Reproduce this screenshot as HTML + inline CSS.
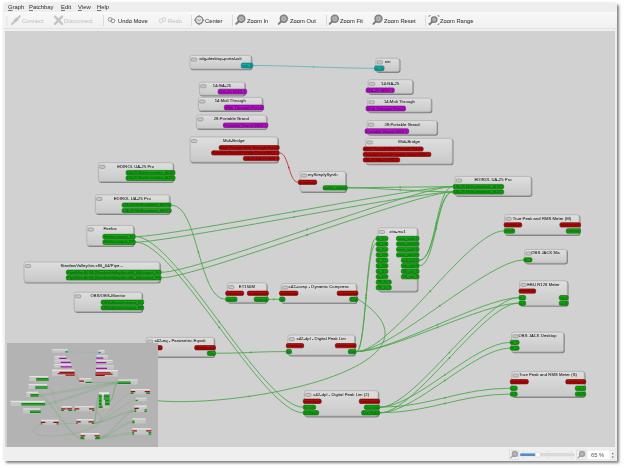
<!DOCTYPE html><html><head><meta charset="utf-8"><style>
*{box-sizing:border-box}
.tt,.pt,.tb,.mn,.st{will-change:transform}
html,body{margin:0;padding:0}
body{width:624px;height:468px;overflow:hidden;position:relative;background:#fff;font-family:"Liberation Sans",sans-serif}
#win{position:absolute;left:4px;top:3px;width:613px;height:458px;background:#efefef;box-shadow:1.5px 2px 2.5px rgba(0,0,0,.47),0 0 3px rgba(0,0,0,.12)}
#menubar{position:absolute;left:4px;top:3px;width:613px;height:9px;background:#eeeeee}
#menubar span{position:absolute;top:2.6px;font-size:6.4px;color:#2a2a2a;letter-spacing:-0.1px}
#toolbar{position:absolute;left:4px;top:12px;width:613px;height:17px;background:linear-gradient(#f7f7f7,#f1f1f1);border-top:1px solid #fbfbfb;border-bottom:1px solid #e2e2e2}
.tb{position:absolute;top:17.6px;font-size:5.8px;-webkit-text-stroke:0.06px #3c3c3c;line-height:6px;color:#3c3c3c;white-space:nowrap}
.tb.dis{color:#bcbcbc;-webkit-text-stroke:0}
.sep{position:absolute;top:15px;width:1px;height:11px;background:#dcdcdc}
#canvas{position:absolute;left:5px;top:30.6px;width:610px;height:417px;background:#d1d1d1;overflow:hidden;box-shadow:inset 0 -0.8px 0 #c7c7c7}
#scene{position:absolute;left:-5px;top:-30.6px;width:624px;height:468px}
.lines{position:absolute;left:0;top:0;will-change:transform}
.lines path{fill:none;stroke-width:0.85}
.nd{position:absolute;border:0.8px solid #aeaeae;border-radius:2.4px;background:linear-gradient(#e2e2e2,#cacaca);box-shadow:0.7px 0.9px 1.4px rgba(0,0,0,.32)}
.ic{position:absolute;left:1.2px;top:2.6px;width:6px;height:3.6px;border:0.9px solid #939393;border-radius:1px 1.6px 1.6px 1px;background:#c4c4c4}
.tt{position:absolute;left:0;right:0;top:0.1px;font-size:4.1px;letter-spacing:0.06px;color:#1a1a1a;white-space:nowrap;overflow:hidden;line-height:5px;-webkit-text-stroke:0.2px #1a1a1a}
.tt.c{text-align:center}
.tt.l{left:7px}
.pt{position:absolute;border-radius:1.5px;font-size:3.9px;padding-left:1.1px;white-space:nowrap;overflow:hidden;-webkit-text-stroke:0.18px currentColor}
.pt.g{background:#12a412;border:0.6px solid #066a06;color:#3ad63a}
.pt.r{background:#b00c0c;border:0.6px solid #6c0000;color:#e23c3c}
.pt.p{background:#ac12bc;border:0.6px solid #660076;color:#d84ae8}
.pt.t{background:#0e9a94;border:0.6px solid #056864;color:#40ccc6}
#mini{position:absolute;left:6.8px;top:343.2px;width:150.8px;height:103.6px;background:#b3b3b3;overflow:hidden}
#mini .sc{position:absolute;left:-0.45px;top:-0.7px;width:624px;height:468px;transform-origin:0 0;transform:scale(.25) translate(-5px,-30px)}
#mini .nd{background:linear-gradient(#e6e6e6,#d6d6d6);border:none;box-shadow:none;border-radius:0}
#mini .lines{will-change:auto}
#mini .lines path{stroke-width:1.6;opacity:.5}
text.tt2{font-size:4.15px;letter-spacing:0.08px;fill:#222;stroke:#222;stroke-width:0.05px}
text.pt2{font-size:3.9px;stroke-width:0.12px}
#status{position:absolute;left:4px;top:447px;width:613px;height:14px;background:#efefef}
</style></head><body>
<div id="win"></div>
<div id="menubar"></div>
<span class="mn" style="position:absolute;left:8.3px;top:4.3px;font-size:5.9px;color:#2a2a2a;line-height:6px"><u style="text-decoration-thickness:0.4px;text-underline-offset:0.8px;text-decoration-color:#777">G</u>raph</span>
<span class="mn" style="position:absolute;left:29.2px;top:4.3px;font-size:5.9px;color:#2a2a2a;line-height:6px"><u style="text-decoration-thickness:0.4px;text-underline-offset:0.8px;text-decoration-color:#777">P</u>atchbay</span>
<span class="mn" style="position:absolute;left:60.6px;top:4.3px;font-size:5.9px;color:#2a2a2a;line-height:6px"><u style="text-decoration-thickness:0.4px;text-underline-offset:0.8px;text-decoration-color:#777">E</u>dit</span>
<span class="mn" style="position:absolute;left:77.5px;top:4.3px;font-size:5.9px;color:#2a2a2a;line-height:6px"><u style="text-decoration-thickness:0.4px;text-underline-offset:0.8px;text-decoration-color:#777">V</u>iew</span>
<span class="mn" style="position:absolute;left:96.7px;top:4.3px;font-size:5.9px;color:#2a2a2a;line-height:6px"><u style="text-decoration-thickness:0.4px;text-underline-offset:0.8px;text-decoration-color:#777">H</u>elp</span>
<div id="toolbar"></div>
<div class="tb dis" style="left:21.5px">Connect</div>
<div class="tb dis" style="left:64.0px">Disconnect</div>
<div class="tb" style="left:117.7px">Undo Move</div>
<div class="tb dis" style="left:168.3px">Redo</div>
<div class="tb" style="left:205.0px">Center</div>
<div class="tb" style="left:246.7px">Zoom In</div>
<div class="tb" style="left:289.6px">Zoom Out</div>
<div class="tb" style="left:340.0px">Zoom Fit</div>
<div class="tb" style="left:383.8px">Zoom Reset</div>
<div class="tb" style="left:439.6px">Zoom Range</div>
<div class="sep" style="left:102.9px"></div>
<div class="sep" style="left:191.3px"></div>
<div class="sep" style="left:232.3px"></div>
<div class="sep" style="left:326.2px"></div>
<div class="sep" style="left:425.4px"></div>
<svg style="position:absolute;left:0;top:0" width="624" height="32"><rect x="6.5" y="16.5" width="0.9" height="0.9" fill="#c4c4c4"/><rect x="6.5" y="18.5" width="0.9" height="0.9" fill="#c4c4c4"/><rect x="6.5" y="20.5" width="0.9" height="0.9" fill="#c4c4c4"/><rect x="6.5" y="22.5" width="0.9" height="0.9" fill="#c4c4c4"/><rect x="6.5" y="24.5" width="0.9" height="0.9" fill="#c4c4c4"/><path d="M12 24L14.8 21.2M17.2 18.8L19.8 16.2" stroke="#c6c6c6" stroke-width="2.2" stroke-linecap="round"/><path d="M13.4 20.4L16.4 17.4L18.6 19.6L15.6 22.6Z" fill="#c0c0c0"/><path d="M55 16.6L62 23.8M62 16.6L55 23.8" stroke="#c4c4c4" stroke-width="2.4" stroke-linecap="round"/><circle cx="110.1" cy="19.4" r="1.9" fill="none" stroke="#8c8c8c" stroke-width="0.9"/><circle cx="112.9" cy="20.8" r="1.9" fill="none" stroke="#8c8c8c" stroke-width="0.9"/><circle cx="161.2" cy="20.8" r="1.9" fill="none" stroke="#cfcfcf" stroke-width="0.9"/><circle cx="164" cy="19.4" r="1.9" fill="none" stroke="#cfcfcf" stroke-width="0.9"/><circle cx="199.2" cy="20.1" r="3.7" fill="#e4e4e4" stroke="#8a8a8a" stroke-width="1.4"/><path d="M197.6 19.4L199.2 21L200.8 19.4" fill="none" stroke="#8a8a8a" stroke-width="0.9"/><path d="M199.2 15V16.2M199.2 24V25.2M194.1 20.1H195.3M203.1 20.1H204.3" stroke="#8a8a8a" stroke-width="1.1"/><circle cx="241.3" cy="18.8" r="3.6" fill="#a0a0a0" stroke="#7c7c7c" stroke-width="1.2"/><circle cx="241.3" cy="18.8" r="1.6" fill="none" stroke="#c8c8c8" stroke-width="0.7"/><path d="M238.6 21.5L236.2 23.9" stroke="#7c7c7c" stroke-width="2.0" stroke-linecap="round"/><circle cx="283.8" cy="18.8" r="3.6" fill="#a0a0a0" stroke="#7c7c7c" stroke-width="1.2"/><circle cx="283.8" cy="18.8" r="1.6" fill="none" stroke="#c8c8c8" stroke-width="0.7"/><path d="M281.1 21.5L278.7 23.9" stroke="#7c7c7c" stroke-width="2.0" stroke-linecap="round"/><circle cx="334.8" cy="18.8" r="3.6" fill="#a0a0a0" stroke="#7c7c7c" stroke-width="1.2"/><circle cx="334.8" cy="18.8" r="1.6" fill="none" stroke="#c8c8c8" stroke-width="0.7"/><path d="M332.1 21.5L329.7 23.9" stroke="#7c7c7c" stroke-width="2.0" stroke-linecap="round"/><circle cx="378.5" cy="18.8" r="3.6" fill="#a0a0a0" stroke="#7c7c7c" stroke-width="1.2"/><circle cx="378.5" cy="18.8" r="1.6" fill="none" stroke="#c8c8c8" stroke-width="0.7"/><path d="M375.8 21.5L373.4 23.9" stroke="#7c7c7c" stroke-width="2.0" stroke-linecap="round"/><circle cx="434.2" cy="19.6" r="2.8" fill="#a0a0a0" stroke="#7c7c7c" stroke-width="1.2"/><circle cx="434.2" cy="19.6" r="1.3" fill="none" stroke="#c8c8c8" stroke-width="0.7"/><path d="M432.1 21.7L429.7 24.1" stroke="#7c7c7c" stroke-width="2.0" stroke-linecap="round"/><path d="M429 17V15.6H430.6M437.4 15.6H439V17M429 23V24.6H430.6M437.4 24.6H439V23" fill="none" stroke="#8a8a8a" stroke-width="0.9"/></svg>
<div id="canvas"><div id="scene"><svg class="lines" width="624" height="468" viewBox="0 0 624 468">
<defs><linearGradient id="ng" x1="0" y1="0" x2="0" y2="1"><stop offset="0" stop-color="#dedede"/><stop offset="1" stop-color="#c9c9c9"/></linearGradient><filter id="sh" x="-10%" y="-10%" width="130%" height="150%"><feGaussianBlur stdDeviation="0.7"/></filter></defs>
<path d="M253.1 65.5C288.1 65.5 339.2 68.3 374.2 68.3" stroke="#62b4b2"/>
<path d="M279.5 152.9C288.8 152.9 288.8 182.2 298.0 182.2" stroke="#c03030"/>
<path d="M171.5 205.1C198.4 205.1 198.4 299.3 225.4 299.3" stroke="#46a646"/>
<path d="M135.6 236.6C170.6 236.6 417.8 186.6 452.8 186.6" stroke="#46a646"/>
<path d="M135.6 242.1C170.6 242.1 417.8 191.9 452.8 191.9" stroke="#46a646"/>
<path d="M135.6 236.6C175.6 236.6 263.0 407.2 303.0 407.2" stroke="#46a646"/>
<path d="M135.6 242.1C175.6 242.1 263.0 412.8 303.0 412.8" stroke="#46a646"/>
<path d="M161.5 272.3C196.5 272.3 417.8 186.6 452.8 186.6" stroke="#46a646"/>
<path d="M161.5 277.8C196.5 277.8 417.8 191.9 452.8 191.9" stroke="#46a646"/>
<path d="M347.7 187.8C382.7 187.8 417.8 186.6 452.8 186.6" stroke="#46a646"/>
<path d="M347.7 187.8C382.7 187.8 417.8 191.9 452.8 191.9" stroke="#46a646"/>
<path d="M268.7 299.3C273.9 299.3 273.9 299.3 279.2 299.3" stroke="#46a646"/>
<path d="M215.8 353.2C250.8 353.2 251.0 351.6 286.0 351.6" stroke="#46a646"/>
<path d="M356.4 351.6C366.1 351.6 366.1 238.5 375.9 238.5" stroke="#46a646"/>
<path d="M356.4 351.6C366.1 351.6 366.1 243.9 375.9 243.9" stroke="#46a646"/>
<path d="M356.4 351.6C391.4 351.6 468.8 230.9 503.8 230.9" stroke="#46a646"/>
<path d="M356.4 351.6C391.4 351.6 488.5 259.9 523.5 259.9" stroke="#46a646"/>
<path d="M356.4 351.6C391.4 351.6 483.7 297.7 518.7 297.7" stroke="#46a646"/>
<path d="M356.4 351.6C391.4 351.6 483.7 303.1 518.7 303.1" stroke="#46a646"/>
<path d="M419.3 260.3C436.1 260.3 436.1 186.6 452.8 186.6" stroke="#46a646"/>
<path d="M419.3 265.8C436.1 265.8 436.1 191.9 452.8 191.9" stroke="#46a646"/>
<path d="M419.3 260.3C436.1 260.3 436.1 191.9 452.8 191.9" stroke="#46a646"/>
<path d="M380.0 407.2C430.0 407.2 460.0 388.2 510.0 388.2" stroke="#46a646"/>
<path d="M380.0 412.8C430.0 412.8 460.0 394.1 510.0 394.1" stroke="#46a646"/>
<path d="M380.0 407.2C415.0 407.2 474.9 342.4 509.9 342.4" stroke="#46a646"/>
<path d="M380.0 412.8C415.0 412.8 474.9 348.1 509.9 348.1" stroke="#46a646"/>
<path d="M380.0 407.2C415.0 407.2 483.7 297.7 518.7 297.7" stroke="#46a646"/>
<path d="M380.0 412.8C415.0 412.8 483.7 303.1 518.7 303.1" stroke="#46a646"/>
<path d="M358.2 299.3C505.6 394.1 -8.6 445.3 144.2 353.2" stroke="#46a646"/>
<circle cx="313.6" cy="66.9" r="0.85" fill="#62b4b2"/>
<circle cx="288.8" cy="167.6" r="0.85" fill="#c03030"/>
<circle cx="198.4" cy="252.2" r="0.85" fill="#46a646"/>
<circle cx="294.2" cy="211.6" r="0.85" fill="#46a646"/>
<circle cx="294.2" cy="217.0" r="0.85" fill="#46a646"/>
<circle cx="219.3" cy="321.9" r="0.85" fill="#46a646"/>
<circle cx="219.3" cy="327.4" r="0.85" fill="#46a646"/>
<circle cx="307.2" cy="229.4" r="0.85" fill="#46a646"/>
<circle cx="307.2" cy="234.9" r="0.85" fill="#46a646"/>
<circle cx="400.2" cy="187.2" r="0.85" fill="#46a646"/>
<circle cx="400.2" cy="189.9" r="0.85" fill="#46a646"/>
<circle cx="273.9" cy="299.3" r="0.85" fill="#46a646"/>
<circle cx="250.9" cy="352.4" r="0.85" fill="#46a646"/>
<circle cx="366.1" cy="295.1" r="0.85" fill="#46a646"/>
<circle cx="366.1" cy="297.8" r="0.85" fill="#46a646"/>
<circle cx="430.1" cy="291.3" r="0.85" fill="#46a646"/>
<circle cx="439.9" cy="305.7" r="0.85" fill="#46a646"/>
<circle cx="437.5" cy="324.6" r="0.85" fill="#46a646"/>
<circle cx="437.5" cy="327.4" r="0.85" fill="#46a646"/>
<circle cx="436.1" cy="223.4" r="0.85" fill="#46a646"/>
<circle cx="436.1" cy="228.8" r="0.85" fill="#46a646"/>
<circle cx="436.1" cy="226.1" r="0.85" fill="#46a646"/>
<circle cx="445.0" cy="397.8" r="0.85" fill="#46a646"/>
<circle cx="445.0" cy="403.4" r="0.85" fill="#46a646"/>
<circle cx="444.9" cy="374.8" r="0.85" fill="#46a646"/>
<circle cx="444.9" cy="380.4" r="0.85" fill="#46a646"/>
<circle cx="449.4" cy="352.5" r="0.85" fill="#46a646"/>
<circle cx="449.4" cy="357.9" r="0.85" fill="#46a646"/>
<circle cx="249.2" cy="396.3" r="0.85" fill="#46a646"/>
<rect x="190.40" y="56.00" width="61.90" height="14.30" rx="2.4" fill="rgba(0,0,0,.38)" filter="url(#sh)"/>
<rect x="190.00" y="55.40" width="61.10" height="13.50" rx="2.2" fill="url(#ng)" stroke="#aeaeae" stroke-width="0.8"/>
<rect x="191.25" y="58.05" width="5.4" height="3.0" rx="1" fill="#c8c8c8" stroke="#9c9c9c" stroke-width="0.9"/>
<text class="tt2" x="220.55" y="60.30" text-anchor="middle">xdg-desktop-portal-wlr</text>
<rect x="241.30" y="63.10" width="11.50" height="4.90" rx="1.5" fill="#12aaa4" stroke="#056864" stroke-width="0.6"/>
<text class="pt2" x="242.30" y="66.90" fill="#067670" stroke="#067670" textLength="9.50" lengthAdjust="spacingAndGlyphs">out_0</text>
<rect x="376.20" y="58.80" width="24.30" height="14.20" rx="2.4" fill="rgba(0,0,0,.38)" filter="url(#sh)"/>
<rect x="375.80" y="58.20" width="23.50" height="13.40" rx="2.2" fill="url(#ng)" stroke="#aeaeae" stroke-width="0.8"/>
<rect x="377.05" y="60.85" width="5.4" height="3.0" rx="1" fill="#c8c8c8" stroke="#9c9c9c" stroke-width="0.9"/>
<text class="tt2" x="387.55" y="63.10" text-anchor="middle">niri</text>
<rect x="374.50" y="65.90" width="9.50" height="4.80" rx="1.5" fill="#12aaa4" stroke="#056864" stroke-width="0.6"/>
<text class="pt2" x="375.50" y="69.65" fill="#067670" stroke="#067670" textLength="7.50" lengthAdjust="spacingAndGlyphs">in_0</text>
<rect x="199.80" y="82.70" width="46.00" height="13.80" rx="2.4" fill="rgba(0,0,0,.38)" filter="url(#sh)"/>
<rect x="199.40" y="82.10" width="45.20" height="13.00" rx="2.2" fill="url(#ng)" stroke="#aeaeae" stroke-width="0.8"/>
<rect x="200.65" y="84.75" width="5.4" height="3.0" rx="1" fill="#c8c8c8" stroke="#9c9c9c" stroke-width="0.9"/>
<text class="tt2" x="222.00" y="87.00" text-anchor="middle">14:GA-25</text>
<rect x="218.10" y="89.20" width="28.60" height="4.90" rx="1.5" fill="#b414c4" stroke="#640074" stroke-width="0.6"/>
<text class="pt2" x="219.10" y="93.00" fill="#7a008a" stroke="#7a008a" textLength="26.60" lengthAdjust="spacingAndGlyphs">GA-25 MIDI 1</text>
<rect x="198.80" y="98.00" width="64.50" height="14.00" rx="2.4" fill="rgba(0,0,0,.38)" filter="url(#sh)"/>
<rect x="198.40" y="97.40" width="63.70" height="13.20" rx="2.2" fill="url(#ng)" stroke="#aeaeae" stroke-width="0.8"/>
<rect x="199.65" y="100.05" width="5.4" height="3.0" rx="1" fill="#c8c8c8" stroke="#9c9c9c" stroke-width="0.9"/>
<text class="tt2" x="230.25" y="102.30" text-anchor="middle">14:Midi Through</text>
<rect x="224.30" y="105.10" width="39.40" height="4.80" rx="1.5" fill="#b414c4" stroke="#640074" stroke-width="0.6"/>
<text class="pt2" x="225.30" y="108.85" fill="#7a008a" stroke="#7a008a" textLength="37.40" lengthAdjust="spacingAndGlyphs">Midi Through Port-0</text>
<rect x="196.80" y="115.70" width="70.70" height="14.30" rx="2.4" fill="rgba(0,0,0,.38)" filter="url(#sh)"/>
<rect x="196.40" y="115.10" width="69.90" height="13.50" rx="2.2" fill="url(#ng)" stroke="#aeaeae" stroke-width="0.8"/>
<rect x="197.65" y="117.75" width="5.4" height="3.0" rx="1" fill="#c8c8c8" stroke="#9c9c9c" stroke-width="0.9"/>
<text class="tt2" x="231.35" y="120.00" text-anchor="middle">28:Portable Grand</text>
<rect x="223.30" y="123.00" width="44.60" height="4.50" rx="1.5" fill="#b414c4" stroke="#640074" stroke-width="0.6"/>
<text class="pt2" x="224.30" y="126.60" fill="#7a008a" stroke="#7a008a" textLength="42.60" lengthAdjust="spacingAndGlyphs">Portable Grand MIDI 1</text>
<rect x="190.50" y="137.50" width="88.30" height="25.90" rx="2.4" fill="rgba(0,0,0,.38)" filter="url(#sh)"/>
<rect x="190.10" y="136.90" width="87.50" height="25.10" rx="2.2" fill="url(#ng)" stroke="#aeaeae" stroke-width="0.8"/>
<rect x="191.35" y="139.55" width="5.4" height="3.0" rx="1" fill="#c8c8c8" stroke="#9c9c9c" stroke-width="0.9"/>
<text class="tt2" x="233.85" y="141.80" text-anchor="middle">Midi-Bridge</text>
<rect x="219.10" y="145.50" width="60.10" height="4.20" rx="1.5" fill="#b00e0e" stroke="#660000" stroke-width="0.6"/>
<text class="pt2" x="220.10" y="148.95" fill="#7a0000" stroke="#7a0000" textLength="58.10" lengthAdjust="spacingAndGlyphs">Midi Through:Midi Through Port-0</text>
<rect x="211.60" y="150.80" width="67.60" height="4.20" rx="1.5" fill="#b00e0e" stroke="#660000" stroke-width="0.6"/>
<text class="pt2" x="212.60" y="154.25" fill="#7a0000" stroke="#7a0000" textLength="65.60" lengthAdjust="spacingAndGlyphs">Portable Grand:Portable Grand MIDI 1</text>
<rect x="243.30" y="156.40" width="35.90" height="4.20" rx="1.5" fill="#b00e0e" stroke="#660000" stroke-width="0.6"/>
<text class="pt2" x="244.30" y="159.85" fill="#7a0000" stroke="#7a0000" textLength="33.90" lengthAdjust="spacingAndGlyphs">GA-25:GA-25 MIDI 1</text>
<rect x="368.50" y="80.30" width="45.20" height="14.70" rx="2.4" fill="rgba(0,0,0,.38)" filter="url(#sh)"/>
<rect x="368.10" y="79.70" width="44.40" height="13.90" rx="2.2" fill="url(#ng)" stroke="#aeaeae" stroke-width="0.8"/>
<rect x="369.35" y="82.35" width="5.4" height="3.0" rx="1" fill="#c8c8c8" stroke="#9c9c9c" stroke-width="0.9"/>
<text class="tt2" x="390.30" y="84.60" text-anchor="middle">14:GA-25</text>
<rect x="366.10" y="87.90" width="28.20" height="4.70" rx="1.5" fill="#b414c4" stroke="#640074" stroke-width="0.6"/>
<text class="pt2" x="367.10" y="91.60" fill="#7a008a" stroke="#7a008a" textLength="26.20" lengthAdjust="spacingAndGlyphs">GA-25 MIDI 1</text>
<rect x="368.10" y="98.70" width="64.20" height="14.60" rx="2.4" fill="rgba(0,0,0,.38)" filter="url(#sh)"/>
<rect x="367.70" y="98.10" width="63.40" height="13.80" rx="2.2" fill="url(#ng)" stroke="#aeaeae" stroke-width="0.8"/>
<rect x="368.95" y="100.75" width="5.4" height="3.0" rx="1" fill="#c8c8c8" stroke="#9c9c9c" stroke-width="0.9"/>
<text class="tt2" x="399.40" y="103.00" text-anchor="middle">14:Midi Through</text>
<rect x="366.10" y="106.10" width="39.40" height="4.80" rx="1.5" fill="#b414c4" stroke="#640074" stroke-width="0.6"/>
<text class="pt2" x="367.10" y="109.85" fill="#7a008a" stroke="#7a008a" textLength="37.40" lengthAdjust="spacingAndGlyphs">Midi Through Port-0</text>
<rect x="367.50" y="121.20" width="70.60" height="14.50" rx="2.4" fill="rgba(0,0,0,.38)" filter="url(#sh)"/>
<rect x="367.10" y="120.60" width="69.80" height="13.70" rx="2.2" fill="url(#ng)" stroke="#aeaeae" stroke-width="0.8"/>
<rect x="368.35" y="123.25" width="5.4" height="3.0" rx="1" fill="#c8c8c8" stroke="#9c9c9c" stroke-width="0.9"/>
<text class="tt2" x="402.00" y="125.50" text-anchor="middle">28:Portable Grand</text>
<rect x="365.10" y="128.80" width="43.60" height="4.80" rx="1.5" fill="#b414c4" stroke="#640074" stroke-width="0.6"/>
<text class="pt2" x="366.10" y="132.55" fill="#7a008a" stroke="#7a008a" textLength="41.60" lengthAdjust="spacingAndGlyphs">Portable Grand MIDI 1</text>
<rect x="366.20" y="138.90" width="87.30" height="26.40" rx="2.4" fill="rgba(0,0,0,.38)" filter="url(#sh)"/>
<rect x="365.80" y="138.30" width="86.50" height="25.60" rx="2.2" fill="url(#ng)" stroke="#aeaeae" stroke-width="0.8"/>
<rect x="367.05" y="140.95" width="5.4" height="3.0" rx="1" fill="#c8c8c8" stroke="#9c9c9c" stroke-width="0.9"/>
<text class="tt2" x="409.05" y="143.20" text-anchor="middle">Midi-Bridge</text>
<rect x="363.20" y="146.90" width="60.00" height="4.20" rx="1.5" fill="#b00e0e" stroke="#660000" stroke-width="0.6"/>
<text class="pt2" x="364.20" y="150.35" fill="#7a0000" stroke="#7a0000" textLength="58.00" lengthAdjust="spacingAndGlyphs">Midi Through:Midi Through Port-0</text>
<rect x="363.20" y="152.30" width="67.70" height="4.20" rx="1.5" fill="#b00e0e" stroke="#660000" stroke-width="0.6"/>
<text class="pt2" x="364.20" y="155.75" fill="#7a0000" stroke="#7a0000" textLength="65.70" lengthAdjust="spacingAndGlyphs">Portable Grand:Portable Grand MIDI 1</text>
<rect x="363.20" y="157.80" width="36.50" height="4.20" rx="1.5" fill="#b00e0e" stroke="#660000" stroke-width="0.6"/>
<text class="pt2" x="364.20" y="161.25" fill="#7a0000" stroke="#7a0000" textLength="34.50" lengthAdjust="spacingAndGlyphs">GA-25:GA-25 MIDI 1</text>
<rect x="98.80" y="163.30" width="75.40" height="19.70" rx="2.4" fill="rgba(0,0,0,.38)" filter="url(#sh)"/>
<rect x="98.40" y="162.70" width="74.60" height="18.90" rx="2.2" fill="url(#ng)" stroke="#aeaeae" stroke-width="0.8"/>
<rect x="99.65" y="165.35" width="5.4" height="3.0" rx="1" fill="#c8c8c8" stroke="#9c9c9c" stroke-width="0.9"/>
<text class="tt2" x="135.70" y="167.60" text-anchor="middle">EDIROL UA-25 Pro</text>
<rect x="126.10" y="170.40" width="48.90" height="4.60" rx="1.5" fill="#12a212" stroke="#066206" stroke-width="0.6"/>
<text class="pt2" x="127.10" y="174.05" fill="#0a740a" stroke="#0a740a" textLength="46.90" lengthAdjust="spacingAndGlyphs">UA-25 Monitor monitor_AUX0</text>
<rect x="126.10" y="175.70" width="48.90" height="4.80" rx="1.5" fill="#12a212" stroke="#066206" stroke-width="0.6"/>
<text class="pt2" x="127.10" y="179.45" fill="#0a740a" stroke="#0a740a" textLength="46.90" lengthAdjust="spacingAndGlyphs">UA-25 Monitor monitor_AUX1</text>
<rect x="95.70" y="195.40" width="74.80" height="19.60" rx="2.4" fill="rgba(0,0,0,.38)" filter="url(#sh)"/>
<rect x="95.30" y="194.80" width="74.00" height="18.80" rx="2.2" fill="url(#ng)" stroke="#aeaeae" stroke-width="0.8"/>
<rect x="96.55" y="197.45" width="5.4" height="3.0" rx="1" fill="#c8c8c8" stroke="#9c9c9c" stroke-width="0.9"/>
<text class="tt2" x="132.30" y="199.70" text-anchor="middle">EDIROL UA-25 Pro</text>
<rect x="122.10" y="203.00" width="49.10" height="4.20" rx="1.5" fill="#12a212" stroke="#066206" stroke-width="0.6"/>
<text class="pt2" x="123.10" y="206.45" fill="#0a740a" stroke="#0a740a" textLength="47.10" lengthAdjust="spacingAndGlyphs">UA-25 Multi-capture_AUX0</text>
<rect x="122.10" y="208.40" width="49.10" height="4.30" rx="1.5" fill="#12a212" stroke="#066206" stroke-width="0.6"/>
<text class="pt2" x="123.10" y="211.90" fill="#0a740a" stroke="#0a740a" textLength="47.10" lengthAdjust="spacingAndGlyphs">UA-25 Multi-capture_AUX1</text>
<rect x="87.20" y="226.00" width="47.40" height="21.00" rx="2.4" fill="rgba(0,0,0,.38)" filter="url(#sh)"/>
<rect x="86.80" y="225.40" width="46.60" height="20.20" rx="2.2" fill="url(#ng)" stroke="#aeaeae" stroke-width="0.8"/>
<rect x="88.05" y="228.05" width="5.4" height="3.0" rx="1" fill="#c8c8c8" stroke="#9c9c9c" stroke-width="0.9"/>
<text class="tt2" x="110.10" y="230.30" text-anchor="middle">Firefox</text>
<rect x="102.90" y="234.30" width="32.40" height="4.60" rx="1.5" fill="#12a212" stroke="#066206" stroke-width="0.6"/>
<text class="pt2" x="103.90" y="237.95" fill="#0a740a" stroke="#0a740a" textLength="30.40" lengthAdjust="spacingAndGlyphs">Firefox output_FL</text>
<rect x="102.90" y="239.70" width="32.40" height="4.80" rx="1.5" fill="#12a212" stroke="#066206" stroke-width="0.6"/>
<text class="pt2" x="103.90" y="243.45" fill="#0a740a" stroke="#0a740a" textLength="30.40" lengthAdjust="spacingAndGlyphs">Firefox output_FR</text>
<rect x="24.40" y="262.50" width="136.40" height="21.10" rx="2.4" fill="rgba(0,0,0,.38)" filter="url(#sh)"/>
<rect x="24.00" y="261.90" width="135.60" height="20.30" rx="2.2" fill="url(#ng)" stroke="#aeaeae" stroke-width="0.8"/>
<rect x="25.25" y="264.55" width="5.4" height="3.0" rx="1" fill="#c8c8c8" stroke="#9c9c9c" stroke-width="0.9"/>
<text class="tt2" x="91.80" y="266.80" text-anchor="middle">StardewValley.bin.x86_64/Pipe...</text>
<rect x="66.30" y="270.10" width="94.90" height="4.40" rx="1.5" fill="#12a212" stroke="#066206" stroke-width="0.6"/>
<text class="pt2" x="67.30" y="273.65" fill="#0a740a" stroke="#0a740a" textLength="92.90" lengthAdjust="spacingAndGlyphs">PipeWire ALSA [StardewValley.bin.x86_64]:output_FL</text>
<rect x="66.30" y="275.60" width="94.90" height="4.40" rx="1.5" fill="#12a212" stroke="#066206" stroke-width="0.6"/>
<text class="pt2" x="67.30" y="279.15" fill="#0a740a" stroke="#0a740a" textLength="92.90" lengthAdjust="spacingAndGlyphs">PipeWire ALSA [StardewValley.bin.x86_64]:output_FR</text>
<rect x="74.60" y="292.80" width="68.50" height="20.20" rx="2.4" fill="rgba(0,0,0,.38)" filter="url(#sh)"/>
<rect x="74.20" y="292.20" width="67.70" height="19.40" rx="2.2" fill="url(#ng)" stroke="#aeaeae" stroke-width="0.8"/>
<rect x="75.45" y="294.85" width="5.4" height="3.0" rx="1" fill="#c8c8c8" stroke="#9c9c9c" stroke-width="0.9"/>
<text class="tt2" x="108.05" y="297.10" text-anchor="middle">OBS/OBS-Monitor</text>
<rect x="101.10" y="300.10" width="42.60" height="4.30" rx="1.5" fill="#12a212" stroke="#066206" stroke-width="0.6"/>
<text class="pt2" x="102.10" y="303.60" fill="#0a740a" stroke="#0a740a" textLength="40.60" lengthAdjust="spacingAndGlyphs">OBS-Monitor:output_FL</text>
<rect x="101.10" y="305.60" width="42.60" height="4.30" rx="1.5" fill="#12a212" stroke="#066206" stroke-width="0.6"/>
<text class="pt2" x="102.10" y="309.10" fill="#0a740a" stroke="#0a740a" textLength="40.60" lengthAdjust="spacingAndGlyphs">OBS-Monitor:output_FR</text>
<rect x="300.50" y="172.00" width="46.30" height="21.00" rx="2.4" fill="rgba(0,0,0,.38)" filter="url(#sh)"/>
<rect x="300.10" y="171.40" width="45.50" height="20.20" rx="2.2" fill="url(#ng)" stroke="#aeaeae" stroke-width="0.8"/>
<rect x="301.35" y="174.05" width="5.4" height="3.0" rx="1" fill="#c8c8c8" stroke="#9c9c9c" stroke-width="0.9"/>
<text class="tt2" x="322.85" y="176.30" text-anchor="middle">mySimplySynth</text>
<rect x="298.30" y="180.10" width="18.40" height="4.30" rx="1.5" fill="#b00e0e" stroke="#660000" stroke-width="0.6"/>
<text class="pt2" x="299.30" y="183.60" fill="#7a0000" stroke="#7a0000" textLength="16.40" lengthAdjust="spacingAndGlyphs">events-in</text>
<rect x="323.10" y="185.70" width="24.30" height="4.30" rx="1.5" fill="#12a212" stroke="#066206" stroke-width="0.6"/>
<text class="pt2" x="324.10" y="189.20" fill="#0a740a" stroke="#0a740a" textLength="22.30" lengthAdjust="spacingAndGlyphs">audio_output</text>
<rect x="455.40" y="177.00" width="76.90" height="20.00" rx="2.4" fill="rgba(0,0,0,.38)" filter="url(#sh)"/>
<rect x="455.00" y="176.40" width="76.10" height="19.20" rx="2.2" fill="url(#ng)" stroke="#aeaeae" stroke-width="0.8"/>
<rect x="456.25" y="179.05" width="5.4" height="3.0" rx="1" fill="#c8c8c8" stroke="#9c9c9c" stroke-width="0.9"/>
<text class="tt2" x="493.05" y="181.30" text-anchor="middle">EDIROL UA-25 Pro</text>
<rect x="453.10" y="184.40" width="50.60" height="4.30" rx="1.5" fill="#12a212" stroke="#066206" stroke-width="0.6"/>
<text class="pt2" x="454.10" y="187.90" fill="#0a740a" stroke="#0a740a" textLength="48.60" lengthAdjust="spacingAndGlyphs">UA-25 Multi-playback_AUX0</text>
<rect x="453.10" y="189.80" width="50.60" height="4.30" rx="1.5" fill="#12a212" stroke="#066206" stroke-width="0.6"/>
<text class="pt2" x="454.10" y="193.30" fill="#0a740a" stroke="#0a740a" textLength="48.60" lengthAdjust="spacingAndGlyphs">UA-25 Multi-playback_AUX1</text>
<rect x="378.40" y="228.40" width="40.00" height="64.10" rx="2.4" fill="rgba(0,0,0,.38)" filter="url(#sh)"/>
<rect x="378.00" y="227.80" width="39.20" height="63.30" rx="2.2" fill="url(#ng)" stroke="#aeaeae" stroke-width="0.8"/>
<rect x="379.25" y="230.45" width="5.4" height="3.0" rx="1" fill="#c8c8c8" stroke="#9c9c9c" stroke-width="0.9"/>
<text class="tt2" x="397.60" y="232.70" text-anchor="middle">zita-mu1</text>
<rect x="376.20" y="236.30" width="11.70" height="4.40" rx="1.5" fill="#12a212" stroke="#066206" stroke-width="0.6"/>
<text class="pt2" x="377.20" y="239.85" fill="#0a740a" stroke="#0a740a" textLength="9.70" lengthAdjust="spacingAndGlyphs">in_1.L</text>
<rect x="376.20" y="241.75" width="11.70" height="4.40" rx="1.5" fill="#12a212" stroke="#066206" stroke-width="0.6"/>
<text class="pt2" x="377.20" y="245.30" fill="#0a740a" stroke="#0a740a" textLength="9.70" lengthAdjust="spacingAndGlyphs">in_1.R</text>
<rect x="376.20" y="247.20" width="11.70" height="4.40" rx="1.5" fill="#12a212" stroke="#066206" stroke-width="0.6"/>
<text class="pt2" x="377.20" y="250.75" fill="#0a740a" stroke="#0a740a" textLength="9.70" lengthAdjust="spacingAndGlyphs">in_2.L</text>
<rect x="376.20" y="252.65" width="11.70" height="4.40" rx="1.5" fill="#12a212" stroke="#066206" stroke-width="0.6"/>
<text class="pt2" x="377.20" y="256.20" fill="#0a740a" stroke="#0a740a" textLength="9.70" lengthAdjust="spacingAndGlyphs">in_2.R</text>
<rect x="376.20" y="258.10" width="11.70" height="4.40" rx="1.5" fill="#12a212" stroke="#066206" stroke-width="0.6"/>
<text class="pt2" x="377.20" y="261.65" fill="#0a740a" stroke="#0a740a" textLength="9.70" lengthAdjust="spacingAndGlyphs">in_3.L</text>
<rect x="376.20" y="263.55" width="11.70" height="4.40" rx="1.5" fill="#12a212" stroke="#066206" stroke-width="0.6"/>
<text class="pt2" x="377.20" y="267.10" fill="#0a740a" stroke="#0a740a" textLength="9.70" lengthAdjust="spacingAndGlyphs">in_3.R</text>
<rect x="376.20" y="269.00" width="11.70" height="4.40" rx="1.5" fill="#12a212" stroke="#066206" stroke-width="0.6"/>
<text class="pt2" x="377.20" y="272.55" fill="#0a740a" stroke="#0a740a" textLength="9.70" lengthAdjust="spacingAndGlyphs">in_4.L</text>
<rect x="376.20" y="274.45" width="11.70" height="4.40" rx="1.5" fill="#12a212" stroke="#066206" stroke-width="0.6"/>
<text class="pt2" x="377.20" y="278.00" fill="#0a740a" stroke="#0a740a" textLength="9.70" lengthAdjust="spacingAndGlyphs">in_4.R</text>
<rect x="376.20" y="279.90" width="15.10" height="4.40" rx="1.5" fill="#12a212" stroke="#066206" stroke-width="0.6"/>
<text class="pt2" x="377.20" y="283.45" fill="#0a740a" stroke="#0a740a" textLength="13.10" lengthAdjust="spacingAndGlyphs">TB_in_1</text>
<rect x="376.20" y="285.35" width="15.10" height="4.40" rx="1.5" fill="#12a212" stroke="#066206" stroke-width="0.6"/>
<text class="pt2" x="377.20" y="288.90" fill="#0a740a" stroke="#0a740a" textLength="13.10" lengthAdjust="spacingAndGlyphs">TB_in_2</text>
<rect x="396.50" y="236.30" width="22.50" height="4.40" rx="1.5" fill="#12a212" stroke="#066206" stroke-width="0.6"/>
<text class="pt2" x="397.50" y="239.85" fill="#0a740a" stroke="#0a740a" textLength="20.50" lengthAdjust="spacingAndGlyphs">mon_out1.L</text>
<rect x="396.50" y="241.75" width="22.50" height="4.40" rx="1.5" fill="#12a212" stroke="#066206" stroke-width="0.6"/>
<text class="pt2" x="397.50" y="245.30" fill="#0a740a" stroke="#0a740a" textLength="20.50" lengthAdjust="spacingAndGlyphs">mon_out1.R</text>
<rect x="396.50" y="247.20" width="22.50" height="4.40" rx="1.5" fill="#12a212" stroke="#066206" stroke-width="0.6"/>
<text class="pt2" x="397.50" y="250.75" fill="#0a740a" stroke="#0a740a" textLength="20.50" lengthAdjust="spacingAndGlyphs">mon_out2.L</text>
<rect x="396.50" y="252.65" width="22.50" height="4.40" rx="1.5" fill="#12a212" stroke="#066206" stroke-width="0.6"/>
<text class="pt2" x="397.50" y="256.20" fill="#0a740a" stroke="#0a740a" textLength="20.50" lengthAdjust="spacingAndGlyphs">mon_out2.R</text>
<rect x="401.30" y="258.10" width="17.70" height="4.40" rx="1.5" fill="#12a212" stroke="#066206" stroke-width="0.6"/>
<text class="pt2" x="402.30" y="261.65" fill="#0a740a" stroke="#0a740a" textLength="15.70" lengthAdjust="spacingAndGlyphs">out_out.L</text>
<rect x="401.30" y="263.55" width="17.70" height="4.40" rx="1.5" fill="#12a212" stroke="#066206" stroke-width="0.6"/>
<text class="pt2" x="402.30" y="267.10" fill="#0a740a" stroke="#0a740a" textLength="15.70" lengthAdjust="spacingAndGlyphs">out_out.R</text>
<rect x="401.30" y="269.00" width="17.70" height="4.40" rx="1.5" fill="#12a212" stroke="#066206" stroke-width="0.6"/>
<text class="pt2" x="402.30" y="272.55" fill="#0a740a" stroke="#0a740a" textLength="15.70" lengthAdjust="spacingAndGlyphs">TB_out_1</text>
<rect x="401.30" y="274.45" width="17.70" height="4.40" rx="1.5" fill="#12a212" stroke="#066206" stroke-width="0.6"/>
<text class="pt2" x="402.30" y="278.00" fill="#0a740a" stroke="#0a740a" textLength="15.70" lengthAdjust="spacingAndGlyphs">TB_out_2</text>
<rect x="505.00" y="215.30" width="75.50" height="20.70" rx="2.4" fill="rgba(0,0,0,.38)" filter="url(#sh)"/>
<rect x="504.60" y="214.70" width="74.70" height="19.90" rx="2.2" fill="url(#ng)" stroke="#aeaeae" stroke-width="0.8"/>
<rect x="505.85" y="217.35" width="5.4" height="3.0" rx="1" fill="#c8c8c8" stroke="#9c9c9c" stroke-width="0.9"/>
<text class="tt2" x="541.95" y="219.60" text-anchor="middle">True Peak and RMS Meter (M)</text>
<rect x="504.10" y="222.70" width="17.60" height="4.40" rx="1.5" fill="#b00e0e" stroke="#660000" stroke-width="0.6"/>
<text class="pt2" x="505.10" y="226.25" fill="#7a0000" stroke="#7a0000" textLength="15.60" lengthAdjust="spacingAndGlyphs">events-in</text>
<rect x="559.90" y="222.70" width="20.60" height="4.40" rx="1.5" fill="#b00e0e" stroke="#660000" stroke-width="0.6"/>
<text class="pt2" x="560.90" y="226.25" fill="#7a0000" stroke="#7a0000" textLength="18.60" lengthAdjust="spacingAndGlyphs">events-out</text>
<rect x="504.10" y="228.70" width="10.60" height="4.50" rx="1.5" fill="#12a212" stroke="#066206" stroke-width="0.6"/>
<text class="pt2" x="505.10" y="232.30" fill="#0a740a" stroke="#0a740a" textLength="8.60" lengthAdjust="spacingAndGlyphs">input</text>
<rect x="566.30" y="228.70" width="14.20" height="4.50" rx="1.5" fill="#12a212" stroke="#066206" stroke-width="0.6"/>
<text class="pt2" x="567.30" y="232.30" fill="#0a740a" stroke="#0a740a" textLength="12.20" lengthAdjust="spacingAndGlyphs">output</text>
<rect x="525.10" y="250.00" width="42.90" height="14.50" rx="2.4" fill="rgba(0,0,0,.38)" filter="url(#sh)"/>
<rect x="524.70" y="249.40" width="42.10" height="13.70" rx="2.2" fill="url(#ng)" stroke="#aeaeae" stroke-width="0.8"/>
<rect x="525.95" y="252.05" width="5.4" height="3.0" rx="1" fill="#c8c8c8" stroke="#9c9c9c" stroke-width="0.9"/>
<text class="tt2" x="545.75" y="254.30" text-anchor="middle">OBS JACK Mic</text>
<rect x="523.80" y="257.70" width="8.20" height="4.30" rx="1.5" fill="#12a212" stroke="#066206" stroke-width="0.6"/>
<text class="pt2" x="524.80" y="261.20" fill="#0a740a" stroke="#0a740a" textLength="6.20" lengthAdjust="spacingAndGlyphs">in_1</text>
<rect x="520.00" y="281.30" width="48.50" height="25.50" rx="2.4" fill="rgba(0,0,0,.38)" filter="url(#sh)"/>
<rect x="519.60" y="280.70" width="47.70" height="24.70" rx="2.2" fill="url(#ng)" stroke="#aeaeae" stroke-width="0.8"/>
<rect x="520.85" y="283.35" width="5.4" height="3.0" rx="1" fill="#c8c8c8" stroke="#9c9c9c" stroke-width="0.9"/>
<text class="tt2" x="543.45" y="285.60" text-anchor="middle">EBU R128 Meter</text>
<rect x="519.00" y="288.90" width="16.70" height="4.30" rx="1.5" fill="#b00e0e" stroke="#660000" stroke-width="0.6"/>
<text class="pt2" x="520.00" y="292.40" fill="#7a0000" stroke="#7a0000" textLength="14.70" lengthAdjust="spacingAndGlyphs">events-in</text>
<rect x="519.00" y="295.50" width="6.70" height="4.40" rx="1.5" fill="#12a212" stroke="#066206" stroke-width="0.6"/>
<text class="pt2" x="520.00" y="299.05" fill="#0a740a" stroke="#0a740a" textLength="4.70" lengthAdjust="spacingAndGlyphs">in_L</text>
<rect x="519.00" y="301.00" width="6.70" height="4.30" rx="1.5" fill="#12a212" stroke="#066206" stroke-width="0.6"/>
<text class="pt2" x="520.00" y="304.50" fill="#0a740a" stroke="#0a740a" textLength="4.70" lengthAdjust="spacingAndGlyphs">in_R</text>
<rect x="559.30" y="295.50" width="8.90" height="4.40" rx="1.5" fill="#12a212" stroke="#066206" stroke-width="0.6"/>
<text class="pt2" x="560.30" y="299.05" fill="#0a740a" stroke="#0a740a" textLength="6.90" lengthAdjust="spacingAndGlyphs">out_L</text>
<rect x="559.30" y="301.00" width="8.90" height="4.30" rx="1.5" fill="#12a212" stroke="#066206" stroke-width="0.6"/>
<text class="pt2" x="560.30" y="304.50" fill="#0a740a" stroke="#0a740a" textLength="6.90" lengthAdjust="spacingAndGlyphs">out_R</text>
<rect x="512.00" y="332.70" width="52.80" height="20.60" rx="2.4" fill="rgba(0,0,0,.38)" filter="url(#sh)"/>
<rect x="511.60" y="332.10" width="52.00" height="19.80" rx="2.2" fill="url(#ng)" stroke="#aeaeae" stroke-width="0.8"/>
<rect x="512.85" y="334.75" width="5.4" height="3.0" rx="1" fill="#c8c8c8" stroke="#9c9c9c" stroke-width="0.9"/>
<text class="tt2" x="537.60" y="337.00" text-anchor="middle">OBS JACK Desktop</text>
<rect x="510.20" y="340.30" width="8.90" height="4.20" rx="1.5" fill="#12a212" stroke="#066206" stroke-width="0.6"/>
<text class="pt2" x="511.20" y="343.75" fill="#0a740a" stroke="#0a740a" textLength="6.90" lengthAdjust="spacingAndGlyphs">in_1</text>
<rect x="510.20" y="345.90" width="8.90" height="4.30" rx="1.5" fill="#12a212" stroke="#066206" stroke-width="0.6"/>
<text class="pt2" x="511.20" y="349.40" fill="#0a740a" stroke="#0a740a" textLength="6.90" lengthAdjust="spacingAndGlyphs">in_2</text>
<rect x="512.20" y="372.00" width="73.30" height="26.00" rx="2.4" fill="rgba(0,0,0,.38)" filter="url(#sh)"/>
<rect x="511.80" y="371.40" width="72.50" height="25.20" rx="2.2" fill="url(#ng)" stroke="#aeaeae" stroke-width="0.8"/>
<rect x="513.05" y="374.05" width="5.4" height="3.0" rx="1" fill="#c8c8c8" stroke="#9c9c9c" stroke-width="0.9"/>
<text class="tt2" x="548.05" y="376.30" text-anchor="middle">True Peak and RMS Meter (S)</text>
<rect x="510.30" y="379.50" width="18.00" height="4.40" rx="1.5" fill="#b00e0e" stroke="#660000" stroke-width="0.6"/>
<text class="pt2" x="511.30" y="383.05" fill="#7a0000" stroke="#7a0000" textLength="16.00" lengthAdjust="spacingAndGlyphs">events-in</text>
<rect x="565.80" y="379.50" width="19.90" height="4.40" rx="1.5" fill="#b00e0e" stroke="#660000" stroke-width="0.6"/>
<text class="pt2" x="566.80" y="383.05" fill="#7a0000" stroke="#7a0000" textLength="17.90" lengthAdjust="spacingAndGlyphs">events-out</text>
<rect x="510.30" y="386.10" width="6.90" height="4.30" rx="1.5" fill="#12a212" stroke="#066206" stroke-width="0.6"/>
<text class="pt2" x="511.30" y="389.60" fill="#0a740a" stroke="#0a740a" textLength="4.90" lengthAdjust="spacingAndGlyphs">in_L</text>
<rect x="510.30" y="391.90" width="6.90" height="4.30" rx="1.5" fill="#12a212" stroke="#066206" stroke-width="0.6"/>
<text class="pt2" x="511.30" y="395.40" fill="#0a740a" stroke="#0a740a" textLength="4.90" lengthAdjust="spacingAndGlyphs">in_R</text>
<rect x="575.30" y="386.10" width="10.40" height="4.30" rx="1.5" fill="#12a212" stroke="#066206" stroke-width="0.6"/>
<text class="pt2" x="576.30" y="389.60" fill="#0a740a" stroke="#0a740a" textLength="8.40" lengthAdjust="spacingAndGlyphs">out_L</text>
<rect x="575.30" y="391.90" width="10.40" height="4.30" rx="1.5" fill="#12a212" stroke="#066206" stroke-width="0.6"/>
<text class="pt2" x="576.30" y="395.40" fill="#0a740a" stroke="#0a740a" textLength="8.40" lengthAdjust="spacingAndGlyphs">out_R</text>
<rect x="227.70" y="283.50" width="40.00" height="20.20" rx="2.4" fill="rgba(0,0,0,.38)" filter="url(#sh)"/>
<rect x="227.30" y="282.90" width="39.20" height="19.40" rx="2.2" fill="url(#ng)" stroke="#aeaeae" stroke-width="0.8"/>
<rect x="228.55" y="285.55" width="5.4" height="3.0" rx="1" fill="#c8c8c8" stroke="#9c9c9c" stroke-width="0.9"/>
<text class="tt2" x="246.90" y="287.80" text-anchor="middle">ET150M</text>
<rect x="225.70" y="291.10" width="18.00" height="4.30" rx="1.5" fill="#b00e0e" stroke="#660000" stroke-width="0.6"/>
<text class="pt2" x="226.70" y="294.60" fill="#7a0000" stroke="#7a0000" textLength="16.00" lengthAdjust="spacingAndGlyphs">events-in</text>
<rect x="247.40" y="291.10" width="21.00" height="4.30" rx="1.5" fill="#b00e0e" stroke="#660000" stroke-width="0.6"/>
<text class="pt2" x="248.40" y="294.60" fill="#7a0000" stroke="#7a0000" textLength="19.00" lengthAdjust="spacingAndGlyphs">events-out</text>
<rect x="225.70" y="297.10" width="11.30" height="4.40" rx="1.5" fill="#12a212" stroke="#066206" stroke-width="0.6"/>
<text class="pt2" x="226.70" y="300.65" fill="#0a740a" stroke="#0a740a" textLength="9.30" lengthAdjust="spacingAndGlyphs">input</text>
<rect x="254.20" y="297.10" width="14.20" height="4.40" rx="1.5" fill="#12a212" stroke="#066206" stroke-width="0.6"/>
<text class="pt2" x="255.20" y="300.65" fill="#0a740a" stroke="#0a740a" textLength="12.20" lengthAdjust="spacingAndGlyphs">output</text>
<rect x="281.60" y="284.00" width="75.80" height="20.10" rx="2.4" fill="rgba(0,0,0,.38)" filter="url(#sh)"/>
<rect x="281.20" y="283.40" width="75.00" height="19.30" rx="2.2" fill="url(#ng)" stroke="#aeaeae" stroke-width="0.8"/>
<rect x="282.45" y="286.05" width="5.4" height="3.0" rx="1" fill="#c8c8c8" stroke="#9c9c9c" stroke-width="0.9"/>
<text class="tt2" x="318.70" y="288.30" text-anchor="middle">x42-comp - Dynamic Compress</text>
<rect x="279.50" y="291.10" width="18.50" height="4.30" rx="1.5" fill="#b00e0e" stroke="#660000" stroke-width="0.6"/>
<text class="pt2" x="280.50" y="294.60" fill="#7a0000" stroke="#7a0000" textLength="16.50" lengthAdjust="spacingAndGlyphs">events-in</text>
<rect x="337.20" y="291.10" width="20.70" height="4.30" rx="1.5" fill="#b00e0e" stroke="#660000" stroke-width="0.6"/>
<text class="pt2" x="338.20" y="294.60" fill="#7a0000" stroke="#7a0000" textLength="18.70" lengthAdjust="spacingAndGlyphs">events-out</text>
<rect x="279.50" y="297.10" width="5.50" height="4.40" rx="1.5" fill="#12a212" stroke="#066206" stroke-width="0.6"/>
<text class="pt2" x="280.50" y="300.65" fill="#0a740a" stroke="#0a740a" textLength="3.50" lengthAdjust="spacingAndGlyphs">In</text>
<rect x="349.70" y="297.10" width="8.20" height="4.40" rx="1.5" fill="#12a212" stroke="#066206" stroke-width="0.6"/>
<text class="pt2" x="350.70" y="300.65" fill="#0a740a" stroke="#0a740a" textLength="6.20" lengthAdjust="spacingAndGlyphs">Out</text>
<rect x="288.20" y="335.60" width="67.60" height="20.80" rx="2.4" fill="rgba(0,0,0,.38)" filter="url(#sh)"/>
<rect x="287.80" y="335.00" width="66.80" height="20.00" rx="2.2" fill="url(#ng)" stroke="#aeaeae" stroke-width="0.8"/>
<rect x="289.05" y="337.65" width="5.4" height="3.0" rx="1" fill="#c8c8c8" stroke="#9c9c9c" stroke-width="0.9"/>
<text class="tt2" x="321.20" y="339.90" text-anchor="middle">x42-dpl - Digital Peak Lim</text>
<rect x="286.30" y="343.50" width="17.40" height="4.30" rx="1.5" fill="#b00e0e" stroke="#660000" stroke-width="0.6"/>
<text class="pt2" x="287.30" y="347.00" fill="#7a0000" stroke="#7a0000" textLength="15.40" lengthAdjust="spacingAndGlyphs">events-in</text>
<rect x="335.30" y="343.50" width="20.80" height="4.30" rx="1.5" fill="#b00e0e" stroke="#660000" stroke-width="0.6"/>
<text class="pt2" x="336.30" y="347.00" fill="#7a0000" stroke="#7a0000" textLength="18.80" lengthAdjust="spacingAndGlyphs">events-out</text>
<rect x="286.30" y="349.40" width="5.20" height="4.40" rx="1.5" fill="#12a212" stroke="#066206" stroke-width="0.6"/>
<text class="pt2" x="287.30" y="352.95" fill="#0a740a" stroke="#0a740a" textLength="3.20" lengthAdjust="spacingAndGlyphs">In</text>
<rect x="348.30" y="349.40" width="7.80" height="4.40" rx="1.5" fill="#12a212" stroke="#066206" stroke-width="0.6"/>
<text class="pt2" x="349.30" y="352.95" fill="#0a740a" stroke="#0a740a" textLength="5.80" lengthAdjust="spacingAndGlyphs">Out</text>
<rect x="304.80" y="391.30" width="74.50" height="26.10" rx="2.4" fill="rgba(0,0,0,.38)" filter="url(#sh)"/>
<rect x="304.40" y="390.70" width="73.70" height="25.30" rx="2.2" fill="url(#ng)" stroke="#aeaeae" stroke-width="0.8"/>
<rect x="305.65" y="393.35" width="5.4" height="3.0" rx="1" fill="#c8c8c8" stroke="#9c9c9c" stroke-width="0.9"/>
<text class="tt2" x="341.25" y="395.60" text-anchor="middle">x42-dpl - Digital Peak Lim (2)</text>
<rect x="303.30" y="399.10" width="17.90" height="4.40" rx="1.5" fill="#b00e0e" stroke="#660000" stroke-width="0.6"/>
<text class="pt2" x="304.30" y="402.65" fill="#7a0000" stroke="#7a0000" textLength="15.90" lengthAdjust="spacingAndGlyphs">events-in</text>
<rect x="359.30" y="399.10" width="20.40" height="4.40" rx="1.5" fill="#b00e0e" stroke="#660000" stroke-width="0.6"/>
<text class="pt2" x="360.30" y="402.65" fill="#7a0000" stroke="#7a0000" textLength="18.40" lengthAdjust="spacingAndGlyphs">events-out</text>
<rect x="303.30" y="405.10" width="12.40" height="4.30" rx="1.5" fill="#12a212" stroke="#066206" stroke-width="0.6"/>
<text class="pt2" x="304.30" y="408.60" fill="#0a740a" stroke="#0a740a" textLength="10.40" lengthAdjust="spacingAndGlyphs">In Left</text>
<rect x="303.30" y="410.60" width="15.40" height="4.30" rx="1.5" fill="#12a212" stroke="#066206" stroke-width="0.6"/>
<text class="pt2" x="304.30" y="414.10" fill="#0a740a" stroke="#0a740a" textLength="13.40" lengthAdjust="spacingAndGlyphs">In Right</text>
<rect x="364.30" y="405.10" width="15.40" height="4.30" rx="1.5" fill="#12a212" stroke="#066206" stroke-width="0.6"/>
<text class="pt2" x="365.30" y="408.60" fill="#0a740a" stroke="#0a740a" textLength="13.40" lengthAdjust="spacingAndGlyphs">Out Left</text>
<rect x="361.60" y="410.60" width="18.10" height="4.30" rx="1.5" fill="#12a212" stroke="#066206" stroke-width="0.6"/>
<text class="pt2" x="362.60" y="414.10" fill="#0a740a" stroke="#0a740a" textLength="16.10" lengthAdjust="spacingAndGlyphs">Out Right</text>
<rect x="146.40" y="338.00" width="68.80" height="20.00" rx="2.4" fill="rgba(0,0,0,.38)" filter="url(#sh)"/>
<rect x="146.00" y="337.40" width="68.00" height="19.20" rx="2.2" fill="url(#ng)" stroke="#aeaeae" stroke-width="0.8"/>
<rect x="147.25" y="340.05" width="5.4" height="3.0" rx="1" fill="#c8c8c8" stroke="#9c9c9c" stroke-width="0.9"/>
<text class="tt2" x="180.00" y="342.30" text-anchor="middle">x42-eq - Parametric Equali</text>
<rect x="144.50" y="345.50" width="17.70" height="4.40" rx="1.5" fill="#b00e0e" stroke="#660000" stroke-width="0.6"/>
<text class="pt2" x="145.50" y="349.05" fill="#7a0000" stroke="#7a0000" textLength="15.70" lengthAdjust="spacingAndGlyphs">events-in</text>
<rect x="194.70" y="345.50" width="20.80" height="4.40" rx="1.5" fill="#b00e0e" stroke="#660000" stroke-width="0.6"/>
<text class="pt2" x="195.70" y="349.05" fill="#7a0000" stroke="#7a0000" textLength="18.80" lengthAdjust="spacingAndGlyphs">events-out</text>
<rect x="144.50" y="351.10" width="5.20" height="4.30" rx="1.5" fill="#12a212" stroke="#066206" stroke-width="0.6"/>
<text class="pt2" x="145.50" y="354.60" fill="#0a740a" stroke="#0a740a" textLength="3.20" lengthAdjust="spacingAndGlyphs">In</text>
<rect x="207.30" y="351.10" width="8.20" height="4.30" rx="1.5" fill="#12a212" stroke="#066206" stroke-width="0.6"/>
<text class="pt2" x="208.30" y="354.60" fill="#0a740a" stroke="#0a740a" textLength="6.20" lengthAdjust="spacingAndGlyphs">Out</text>
</svg></div></div>
<div id="mini"><div class="sc"><svg class="lines" width="624" height="468" viewBox="0 0 624 468">
<defs><linearGradient id="ngm" x1="0" y1="0" x2="0" y2="1"><stop offset="0" stop-color="#ececec"/><stop offset="0.13" stop-color="#e4e4e4"/><stop offset="0.24" stop-color="#c8c8c8"/><stop offset="1" stop-color="#c2c2c2"/></linearGradient></defs>
<path d="M253.1 65.5C288.1 65.5 339.2 68.3 374.2 68.3" stroke="#62b4b2"/>
<path d="M279.5 152.9C288.8 152.9 288.8 182.2 298.0 182.2" stroke="#c03030"/>
<path d="M171.5 205.1C198.4 205.1 198.4 299.3 225.4 299.3" stroke="#46a646"/>
<path d="M135.6 236.6C170.6 236.6 417.8 186.6 452.8 186.6" stroke="#46a646"/>
<path d="M135.6 242.1C170.6 242.1 417.8 191.9 452.8 191.9" stroke="#46a646"/>
<path d="M135.6 236.6C175.6 236.6 263.0 407.2 303.0 407.2" stroke="#46a646"/>
<path d="M135.6 242.1C175.6 242.1 263.0 412.8 303.0 412.8" stroke="#46a646"/>
<path d="M161.5 272.3C196.5 272.3 417.8 186.6 452.8 186.6" stroke="#46a646"/>
<path d="M161.5 277.8C196.5 277.8 417.8 191.9 452.8 191.9" stroke="#46a646"/>
<path d="M347.7 187.8C382.7 187.8 417.8 186.6 452.8 186.6" stroke="#46a646"/>
<path d="M347.7 187.8C382.7 187.8 417.8 191.9 452.8 191.9" stroke="#46a646"/>
<path d="M268.7 299.3C273.9 299.3 273.9 299.3 279.2 299.3" stroke="#46a646"/>
<path d="M215.8 353.2C250.8 353.2 251.0 351.6 286.0 351.6" stroke="#46a646"/>
<path d="M356.4 351.6C366.1 351.6 366.1 238.5 375.9 238.5" stroke="#46a646"/>
<path d="M356.4 351.6C366.1 351.6 366.1 243.9 375.9 243.9" stroke="#46a646"/>
<path d="M356.4 351.6C391.4 351.6 468.8 230.9 503.8 230.9" stroke="#46a646"/>
<path d="M356.4 351.6C391.4 351.6 488.5 259.9 523.5 259.9" stroke="#46a646"/>
<path d="M356.4 351.6C391.4 351.6 483.7 297.7 518.7 297.7" stroke="#46a646"/>
<path d="M356.4 351.6C391.4 351.6 483.7 303.1 518.7 303.1" stroke="#46a646"/>
<path d="M419.3 260.3C436.1 260.3 436.1 186.6 452.8 186.6" stroke="#46a646"/>
<path d="M419.3 265.8C436.1 265.8 436.1 191.9 452.8 191.9" stroke="#46a646"/>
<path d="M419.3 260.3C436.1 260.3 436.1 191.9 452.8 191.9" stroke="#46a646"/>
<path d="M380.0 407.2C430.0 407.2 460.0 388.2 510.0 388.2" stroke="#46a646"/>
<path d="M380.0 412.8C430.0 412.8 460.0 394.1 510.0 394.1" stroke="#46a646"/>
<path d="M380.0 407.2C415.0 407.2 474.9 342.4 509.9 342.4" stroke="#46a646"/>
<path d="M380.0 412.8C415.0 412.8 474.9 348.1 509.9 348.1" stroke="#46a646"/>
<path d="M380.0 407.2C415.0 407.2 483.7 297.7 518.7 297.7" stroke="#46a646"/>
<path d="M380.0 412.8C415.0 412.8 483.7 303.1 518.7 303.1" stroke="#46a646"/>
<path d="M358.2 299.3C505.6 394.1 -8.6 445.3 144.2 353.2" stroke="#46a646"/>
<rect x="189.60" y="55.00" width="61.90" height="14.30" fill="url(#ngm)"/>
<rect x="241.00" y="62.80" width="12.10" height="5.50" rx="1" fill="#0c9690"/>
<rect x="375.40" y="57.80" width="24.30" height="14.20" fill="url(#ngm)"/>
<rect x="374.20" y="65.60" width="10.10" height="5.40" rx="1" fill="#0c9690"/>
<rect x="199.00" y="81.70" width="46.00" height="13.80" fill="url(#ngm)"/>
<rect x="217.80" y="88.90" width="29.20" height="5.50" rx="1" fill="#a012b0"/>
<rect x="198.00" y="97.00" width="64.50" height="14.00" fill="url(#ngm)"/>
<rect x="224.00" y="104.80" width="40.00" height="5.40" rx="1" fill="#a012b0"/>
<rect x="196.00" y="114.70" width="70.70" height="14.30" fill="url(#ngm)"/>
<rect x="223.00" y="122.70" width="45.20" height="5.10" rx="1" fill="#a012b0"/>
<rect x="189.70" y="136.50" width="88.30" height="25.90" fill="url(#ngm)"/>
<rect x="218.80" y="145.20" width="60.70" height="4.80" rx="1" fill="#a00c0c"/>
<rect x="211.30" y="150.50" width="68.20" height="4.80" rx="1" fill="#a00c0c"/>
<rect x="243.00" y="156.10" width="36.50" height="4.80" rx="1" fill="#a00c0c"/>
<rect x="367.70" y="79.30" width="45.20" height="14.70" fill="url(#ngm)"/>
<rect x="365.80" y="87.60" width="28.80" height="5.30" rx="1" fill="#a012b0"/>
<rect x="367.30" y="97.70" width="64.20" height="14.60" fill="url(#ngm)"/>
<rect x="365.80" y="105.80" width="40.00" height="5.40" rx="1" fill="#a012b0"/>
<rect x="366.70" y="120.20" width="70.60" height="14.50" fill="url(#ngm)"/>
<rect x="364.80" y="128.50" width="44.20" height="5.40" rx="1" fill="#a012b0"/>
<rect x="365.40" y="137.90" width="87.30" height="26.40" fill="url(#ngm)"/>
<rect x="362.90" y="146.60" width="60.60" height="4.80" rx="1" fill="#a00c0c"/>
<rect x="362.90" y="152.00" width="68.30" height="4.80" rx="1" fill="#a00c0c"/>
<rect x="362.90" y="157.50" width="37.10" height="4.80" rx="1" fill="#a00c0c"/>
<rect x="98.00" y="162.30" width="75.40" height="19.70" fill="url(#ngm)"/>
<rect x="125.80" y="170.10" width="49.50" height="5.20" rx="1" fill="#0d8e0d"/>
<rect x="125.80" y="175.40" width="49.50" height="5.40" rx="1" fill="#0d8e0d"/>
<rect x="94.90" y="194.40" width="74.80" height="19.60" fill="url(#ngm)"/>
<rect x="121.80" y="202.70" width="49.70" height="4.80" rx="1" fill="#0d8e0d"/>
<rect x="121.80" y="208.10" width="49.70" height="4.90" rx="1" fill="#0d8e0d"/>
<rect x="86.40" y="225.00" width="47.40" height="21.00" fill="url(#ngm)"/>
<rect x="102.60" y="234.00" width="33.00" height="5.20" rx="1" fill="#0d8e0d"/>
<rect x="102.60" y="239.40" width="33.00" height="5.40" rx="1" fill="#0d8e0d"/>
<rect x="23.60" y="261.50" width="136.40" height="21.10" fill="url(#ngm)"/>
<rect x="66.00" y="269.80" width="95.50" height="5.00" rx="1" fill="#0d8e0d"/>
<rect x="66.00" y="275.30" width="95.50" height="5.00" rx="1" fill="#0d8e0d"/>
<rect x="73.80" y="291.80" width="68.50" height="20.20" fill="url(#ngm)"/>
<rect x="100.80" y="299.80" width="43.20" height="4.90" rx="1" fill="#0d8e0d"/>
<rect x="100.80" y="305.30" width="43.20" height="4.90" rx="1" fill="#0d8e0d"/>
<rect x="299.70" y="171.00" width="46.30" height="21.00" fill="url(#ngm)"/>
<rect x="298.00" y="179.80" width="19.00" height="4.90" rx="1" fill="#a00c0c"/>
<rect x="322.80" y="185.40" width="24.90" height="4.90" rx="1" fill="#0d8e0d"/>
<rect x="454.60" y="176.00" width="76.90" height="20.00" fill="url(#ngm)"/>
<rect x="452.80" y="184.10" width="51.20" height="4.90" rx="1" fill="#0d8e0d"/>
<rect x="452.80" y="189.50" width="51.20" height="4.90" rx="1" fill="#0d8e0d"/>
<rect x="377.60" y="227.40" width="40.00" height="64.10" fill="url(#ngm)"/>
<rect x="375.90" y="236.00" width="12.30" height="5.00" rx="1" fill="#0d8e0d"/>
<rect x="375.90" y="241.45" width="12.30" height="5.00" rx="1" fill="#0d8e0d"/>
<rect x="375.90" y="246.90" width="12.30" height="5.00" rx="1" fill="#0d8e0d"/>
<rect x="375.90" y="252.35" width="12.30" height="5.00" rx="1" fill="#0d8e0d"/>
<rect x="375.90" y="257.80" width="12.30" height="5.00" rx="1" fill="#0d8e0d"/>
<rect x="375.90" y="263.25" width="12.30" height="5.00" rx="1" fill="#0d8e0d"/>
<rect x="375.90" y="268.70" width="12.30" height="5.00" rx="1" fill="#0d8e0d"/>
<rect x="375.90" y="274.15" width="12.30" height="5.00" rx="1" fill="#0d8e0d"/>
<rect x="375.90" y="279.60" width="15.70" height="5.00" rx="1" fill="#0d8e0d"/>
<rect x="375.90" y="285.05" width="15.70" height="5.00" rx="1" fill="#0d8e0d"/>
<rect x="396.20" y="236.00" width="23.10" height="5.00" rx="1" fill="#0d8e0d"/>
<rect x="396.20" y="241.45" width="23.10" height="5.00" rx="1" fill="#0d8e0d"/>
<rect x="396.20" y="246.90" width="23.10" height="5.00" rx="1" fill="#0d8e0d"/>
<rect x="396.20" y="252.35" width="23.10" height="5.00" rx="1" fill="#0d8e0d"/>
<rect x="401.00" y="257.80" width="18.30" height="5.00" rx="1" fill="#0d8e0d"/>
<rect x="401.00" y="263.25" width="18.30" height="5.00" rx="1" fill="#0d8e0d"/>
<rect x="401.00" y="268.70" width="18.30" height="5.00" rx="1" fill="#0d8e0d"/>
<rect x="401.00" y="274.15" width="18.30" height="5.00" rx="1" fill="#0d8e0d"/>
<rect x="504.20" y="214.30" width="75.50" height="20.70" fill="url(#ngm)"/>
<rect x="503.80" y="222.40" width="18.20" height="5.00" rx="1" fill="#a00c0c"/>
<rect x="559.60" y="222.40" width="21.20" height="5.00" rx="1" fill="#a00c0c"/>
<rect x="503.80" y="228.40" width="11.20" height="5.10" rx="1" fill="#0d8e0d"/>
<rect x="566.00" y="228.40" width="14.80" height="5.10" rx="1" fill="#0d8e0d"/>
<rect x="524.30" y="249.00" width="42.90" height="14.50" fill="url(#ngm)"/>
<rect x="523.50" y="257.40" width="8.80" height="4.90" rx="1" fill="#0d8e0d"/>
<rect x="519.20" y="280.30" width="48.50" height="25.50" fill="url(#ngm)"/>
<rect x="518.70" y="288.60" width="17.30" height="4.90" rx="1" fill="#a00c0c"/>
<rect x="518.70" y="295.20" width="7.30" height="5.00" rx="1" fill="#0d8e0d"/>
<rect x="518.70" y="300.70" width="7.30" height="4.90" rx="1" fill="#0d8e0d"/>
<rect x="559.00" y="295.20" width="9.50" height="5.00" rx="1" fill="#0d8e0d"/>
<rect x="559.00" y="300.70" width="9.50" height="4.90" rx="1" fill="#0d8e0d"/>
<rect x="511.20" y="331.70" width="52.80" height="20.60" fill="url(#ngm)"/>
<rect x="509.90" y="340.00" width="9.50" height="4.80" rx="1" fill="#0d8e0d"/>
<rect x="509.90" y="345.60" width="9.50" height="4.90" rx="1" fill="#0d8e0d"/>
<rect x="511.40" y="371.00" width="73.30" height="26.00" fill="url(#ngm)"/>
<rect x="510.00" y="379.20" width="18.60" height="5.00" rx="1" fill="#a00c0c"/>
<rect x="565.50" y="379.20" width="20.50" height="5.00" rx="1" fill="#a00c0c"/>
<rect x="510.00" y="385.80" width="7.50" height="4.90" rx="1" fill="#0d8e0d"/>
<rect x="510.00" y="391.60" width="7.50" height="4.90" rx="1" fill="#0d8e0d"/>
<rect x="575.00" y="385.80" width="11.00" height="4.90" rx="1" fill="#0d8e0d"/>
<rect x="575.00" y="391.60" width="11.00" height="4.90" rx="1" fill="#0d8e0d"/>
<rect x="226.90" y="282.50" width="40.00" height="20.20" fill="url(#ngm)"/>
<rect x="225.40" y="290.80" width="18.60" height="4.90" rx="1" fill="#a00c0c"/>
<rect x="247.10" y="290.80" width="21.60" height="4.90" rx="1" fill="#a00c0c"/>
<rect x="225.40" y="296.80" width="11.90" height="5.00" rx="1" fill="#0d8e0d"/>
<rect x="253.90" y="296.80" width="14.80" height="5.00" rx="1" fill="#0d8e0d"/>
<rect x="280.80" y="283.00" width="75.80" height="20.10" fill="url(#ngm)"/>
<rect x="279.20" y="290.80" width="19.10" height="4.90" rx="1" fill="#a00c0c"/>
<rect x="336.90" y="290.80" width="21.30" height="4.90" rx="1" fill="#a00c0c"/>
<rect x="279.20" y="296.80" width="6.10" height="5.00" rx="1" fill="#0d8e0d"/>
<rect x="349.40" y="296.80" width="8.80" height="5.00" rx="1" fill="#0d8e0d"/>
<rect x="287.40" y="334.60" width="67.60" height="20.80" fill="url(#ngm)"/>
<rect x="286.00" y="343.20" width="18.00" height="4.90" rx="1" fill="#a00c0c"/>
<rect x="335.00" y="343.20" width="21.40" height="4.90" rx="1" fill="#a00c0c"/>
<rect x="286.00" y="349.10" width="5.80" height="5.00" rx="1" fill="#0d8e0d"/>
<rect x="348.00" y="349.10" width="8.40" height="5.00" rx="1" fill="#0d8e0d"/>
<rect x="304.00" y="390.30" width="74.50" height="26.10" fill="url(#ngm)"/>
<rect x="303.00" y="398.80" width="18.50" height="5.00" rx="1" fill="#a00c0c"/>
<rect x="359.00" y="398.80" width="21.00" height="5.00" rx="1" fill="#a00c0c"/>
<rect x="303.00" y="404.80" width="13.00" height="4.90" rx="1" fill="#0d8e0d"/>
<rect x="303.00" y="410.30" width="16.00" height="4.90" rx="1" fill="#0d8e0d"/>
<rect x="364.00" y="404.80" width="16.00" height="4.90" rx="1" fill="#0d8e0d"/>
<rect x="361.30" y="410.30" width="18.70" height="4.90" rx="1" fill="#0d8e0d"/>
<rect x="145.60" y="337.00" width="68.80" height="20.00" fill="url(#ngm)"/>
<rect x="144.20" y="345.20" width="18.30" height="5.00" rx="1" fill="#a00c0c"/>
<rect x="194.40" y="345.20" width="21.40" height="5.00" rx="1" fill="#a00c0c"/>
<rect x="144.20" y="350.80" width="5.80" height="4.90" rx="1" fill="#0d8e0d"/>
<rect x="207.00" y="350.80" width="8.80" height="4.90" rx="1" fill="#0d8e0d"/>
</svg></div></div>
<div id="status"></div>
<svg style="position:absolute;left:0;top:440px" width="624" height="28" viewBox="0 440 624 28"><rect x="509.4" y="450.2" width="8.8" height="9.4" fill="#f4f4f4" stroke="#d2d2d2" stroke-width="0.6"/><rect x="576.8" y="450.2" width="8.8" height="9.4" fill="#f4f4f4" stroke="#d2d2d2" stroke-width="0.6"/><circle cx="514.8" cy="454.0" r="2.6" fill="#a0a0a0" stroke="#a2a2a2" stroke-width="1.2"/><circle cx="514.8" cy="454.0" r="1.2" fill="none" stroke="#c8c8c8" stroke-width="0.7"/><path d="M512.8 455.9L511.0 457.8" stroke="#a2a2a2" stroke-width="1.4" stroke-linecap="round"/><circle cx="582.0" cy="454.0" r="2.6" fill="#a0a0a0" stroke="#a2a2a2" stroke-width="1.2"/><circle cx="582.0" cy="454.0" r="1.2" fill="none" stroke="#c8c8c8" stroke-width="0.7"/><path d="M580.0 455.9L578.2 457.8" stroke="#a2a2a2" stroke-width="1.4" stroke-linecap="round"/><rect x="520" y="453.6" width="54.5" height="2.4" rx="1.2" fill="#dcdcdc" stroke="#c4c4c4" stroke-width="0.4"/><rect x="520" y="453.6" width="16" height="2.4" rx="1.2" fill="#4b8fcf"/><path d="M523.3 451V452.2M523.3 457.8V459" stroke="#b0b0b0" stroke-width="0.5"/><path d="M547.5 451V452.2M547.5 457.8V459" stroke="#b0b0b0" stroke-width="0.5"/><path d="M571.6 451V452.2M571.6 457.8V459" stroke="#b0b0b0" stroke-width="0.5"/><rect x="535.3" y="452.2" width="4.9" height="4.8" rx="0.8" fill="#fbfbfb" stroke="#c8c8c8" stroke-width="0.5"/><rect x="587.2" y="450.2" width="27.8" height="9.5" fill="#f2f2f2" stroke="#dedede" stroke-width="0.5"/><rect x="587.5" y="450.5" width="21.3" height="8.9" fill="#ffffff"/><path d="M611.6 454.2L612.7 452.6L613.8 454.2ZM611.6 456.6L612.7 458.2L613.8 456.6Z" fill="#666"/></svg>
<div class="st" style="position:absolute;left:591.4px;top:452.4px;font-size:5.8px;line-height:6px;color:#555">65 %</div>
</body></html>
